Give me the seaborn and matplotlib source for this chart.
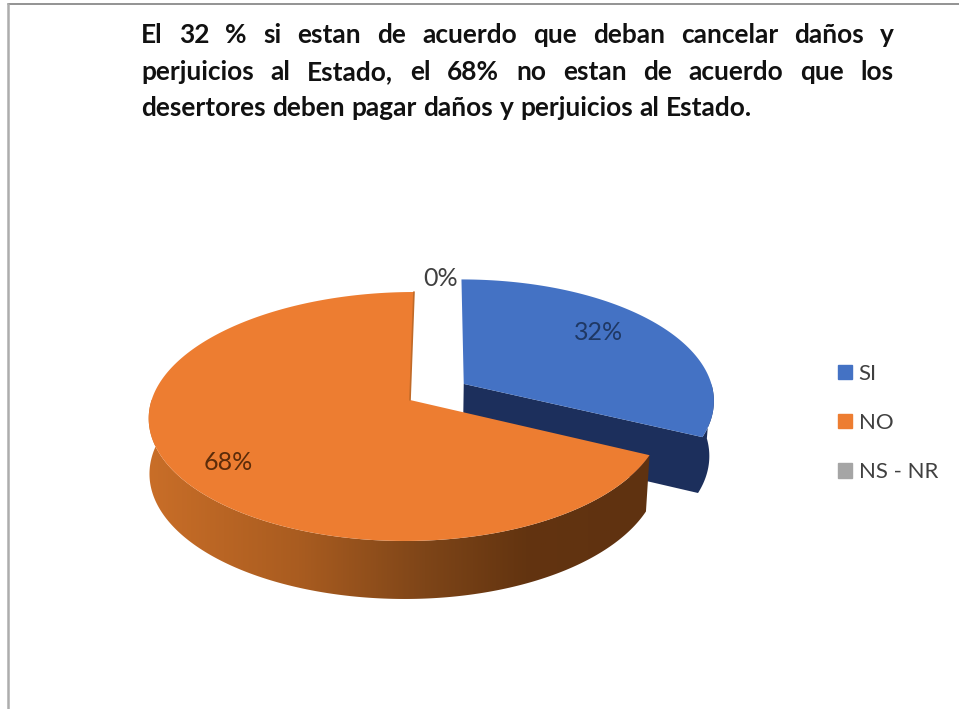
import numpy as np
import matplotlib
matplotlib.use("Agg")
import matplotlib.pyplot as plt
import seaborn as sns
from matplotlib.colors import LinearSegmentedColormap
from matplotlib.patches import Patch, Polygon

# Data
categories = ['SI', 'NO', 'NS - NR']
values = [32, 68, 0]
colors = ['#4472c4', '#ed7d31', '#a5a5a5']
explode = [0.25, 0, 0]

title_lines = [
    "El 32 % si estan de acuerdo que deban cancelar daños y",
    "perjuicios al Estado, el 68% no estan de acuerdo que los",
    "desertores deben pagar daños y perjuicios al Estado.",
]

sns.set_theme(style="white")
plt.rcParams['font.family'] = ['Lato', 'DejaVu Sans']

fig = plt.figure(figsize=(9.59, 7.09), dpi=100)
ax = fig.add_axes([0, 0, 1, 1])

# pie gives the slice angles, the 3D look is projected from them below
wedges, _ = ax.pie(values, explode=explode, startangle=90, counterclock=False, colors=colors)
for w in wedges:
    w.set_visible(False)


def project(u, v, drop=0.0, a=255, b=3.4):
    """Disc coordinates to pixels, with a bit of perspective"""
    u = np.asarray(u, dtype=float)
    v = np.asarray(v, dtype=float)
    d = 1 + 0.1325 * v
    x = 410 + (a * u - b * u * u + 4.5 * v) / d
    y = 400 - 122.3 * v / d
    if drop:
        x = 410 + (x - 410) * np.where(x > 410, 0.985, 0.997)
        y = y + drop - 3 * v
    return np.column_stack([x, y])


def arc(wedge, p, q, n=200):
    t = np.radians(np.linspace(p, q, n))
    cu, cv = wedge.center
    return cu + wedge.r * np.cos(t), cv + wedge.r * np.sin(t)


def top_face(wedge, **kw):
    u, v = arc(wedge, wedge.theta1, wedge.theta2)
    cu, cv = wedge.center
    return np.vstack([project([cu], [cv], **kw), project(u, v, **kw)])


DEPTH = 55
BLUE = {'a': 257, 'b': 3.5}  # exploded slice sits a little wider
blue, orange = wedges[0], wedges[1]

# blue slice: cut face and short piece of rim, both dark
cu, cv = blue.center
u, v = arc(blue, blue.theta1, 0, 40)
upper = np.vstack([project([cu], [cv], **BLUE), project(u, v, **BLUE)])
lower = np.vstack([project([cu], [cv], DEPTH, **BLUE), project(u, v, DEPTH, **BLUE)])
ax.add_patch(Polygon(np.vstack([upper, lower[::-1]]), closed=True, fc='#1c2f5c', ec='none', zorder=1))
ax.add_patch(Polygon(top_face(blue, **BLUE), closed=True, fc=colors[0], ec='none', zorder=2))

# orange rim with the dark gradient going to the right
u, v = arc(orange, orange.theta2, orange.theta1 + 70, 300)
rim = Polygon(np.vstack([project(u, v), project(u, v, DEPTH)[::-1]]), closed=True,
              fc='none', ec='none', zorder=3)
ax.add_patch(rim)
rim_cmap = LinearSegmentedColormap.from_list(
    'rim', [(0, '#c96e28'), (0.3, '#a95c20'), (0.55, '#7e4518'), (0.75, '#633410'), (1, '#5f3210')])
img = ax.imshow(np.linspace(0, 1, 256)[None, :], cmap=rim_cmap, extent=[148, 652, 610, 400],
                aspect='auto', zorder=3)
img.set_clip_path(rim)
ax.add_patch(Polygon(top_face(orange), closed=True, fc=colors[1], ec='none', zorder=4))
# thin shaded edge where the slice was cut, next to the gap
edge = project([orange.center[0], 0], [orange.center[1], 1])
ax.plot(edge[:, 0], edge[:, 1], color='#c06a28', lw=1.2, zorder=5)

# value labels
ax.text(599, 333, f"{values[0]}%", color='#1f3864', fontsize=18, ha='center', va='center', zorder=6)
ax.text(228, 463, f"{values[1]}%", color='#5b2c0a', fontsize=18, ha='center', va='center', zorder=6)
ax.text(441, 278, f"{values[2]}%", color='#404040', fontsize=18, ha='center', va='center', zorder=6)

# legend
handles = [Patch(color=c, label=n) for c, n in zip(colors, categories)]
ax.legend(handles=handles, loc='center left', bbox_to_anchor=(818 / 959, 1 - 423 / 709),
          frameon=False, fontsize=16, labelspacing=1.32, handlelength=0.63, handleheight=0.63,
          handletextpad=0.3, labelcolor='#404040')

# title, justified word by word like in the original
renderer = fig.canvas.get_renderer()
spans = [(141, 894, 43), (141, 894, 80), (141, 752, 116)]
for line, (x0, x1, base) in zip(title_lines, spans):
    items = [ax.text(0, base, w, fontsize=18.9, fontweight='bold', color='#111111', va='baseline', zorder=6)
             for w in line.split(' ')]
    widths = [t.get_window_extent(renderer).width for t in items]
    gap = (x1 - x0 - sum(widths)) / (len(items) - 1)
    x = x0
    for t, w in zip(items, widths):
        t.set_x(x)
        x += w + gap

# page frame
ax.plot([8, 959], [4, 4], color='#8a8a8a', lw=1.3)
ax.plot([8, 8], [4, 709], color='#adadad', lw=1.8)

ax.set_aspect('auto')
ax.set_xlim(0, 959)
ax.set_ylim(709, 0)
ax.axis('off')

fig.savefig('out.png', dpi=100, facecolor='white')
